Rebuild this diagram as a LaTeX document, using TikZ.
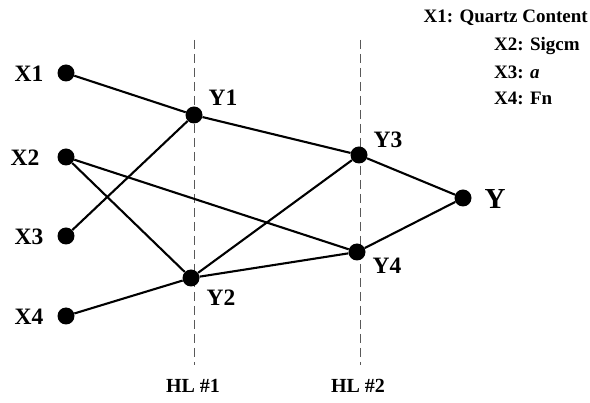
\documentclass[tikz,border=0pt]{standalone}
\usepackage{fontspec}
\setmainfont{Liberation Serif}
\begin{document}
\begin{tikzpicture}[x=1pt,y=-1pt,
  dot/.style={circle,fill=black,inner sep=0pt,minimum size=17pt},
  lbl/.style={font=\fontsize{23.5}{25}\selectfont\bfseries,inner sep=0pt},
  leg/.style={font=\fontsize{19}{21}\selectfont\bfseries,inner sep=0pt},
  edge/.style={line width=2.1pt},
  hl/.style={gray!70!black,line width=0.8pt,dash pattern=on 9pt off 5pt}]
\useasboundingbox (0,0) rectangle (590,403);
% hidden layer guides
\coordinate (h1t) at (194,40); \coordinate (h1b) at (194,365);
\coordinate (h2t) at (360,40); \coordinate (h2b) at (360,365);
\draw[hl] (h1t) -- (h1b);
\draw[hl] (h2t) -- (h2b);
% nodes
\node[dot] (x1) at (66,73) {};
\node[dot] (x2) at (66,157) {};
\node[dot] (x3) at (66,236) {};
\node[dot] (x4) at (66,316) {};
\node[dot] (y1) at (194,115) {};
\node[dot] (y2) at (191,278) {};
\node[dot] (y3) at (359,155) {};
\node[dot] (y4) at (357,252) {};
\node[dot] (y) at (463,198) {};
% edges
\draw[edge] (x1) -- (y1);
\draw[edge] (x2) -- (y2);
\draw[edge] (x2) -- (y4);
\draw[edge] (x3) -- (y1);
\draw[edge] (x4) -- (y2);
\draw[edge] (y1) -- (y3);
\draw[edge] (y2) -- (y3);
\draw[edge] (y2) -- (y4);
\draw[edge] (y3) -- (y);
\draw[edge] (y4) -- (y);
% labels
\node[lbl] (lx1) at (29,74) {X1};
\node[lbl] (lx2) at (25,158) {X2};
\node[lbl] (lx3) at (29,237) {X3};
\node[lbl] (lx4) at (29,317) {X4};
\node[lbl] (ly1) at (223,98) {Y1};
\node[lbl] (ly2) at (221,298) {Y2};
\node[lbl] (ly3) at (388,140) {Y3};
\node[lbl] (ly4) at (387,266) {Y4};
\node[font=\fontsize{29}{31}\selectfont\bfseries,inner sep=0pt] (ly) at (495,199) {Y};
\node[leg,font=\fontsize{20}{22}\selectfont\bfseries] (hl1) at (193,386) {HL \#1};
\node[leg,font=\fontsize{20}{22}\selectfont\bfseries] (hl2) at (358,386) {HL \#2};
% legend
\node[leg,anchor=east] (g1) at (588,18) {X1: Quartz Content};
\node[leg,anchor=west] (g2) at (494,46) {X2: Sigcm};
\node[leg,anchor=west] (g3) at (494,72) {X3: \textit{a}};
\node[leg,anchor=west] (g4) at (494,98) {X4: Fn};
\end{tikzpicture}
\end{document}
